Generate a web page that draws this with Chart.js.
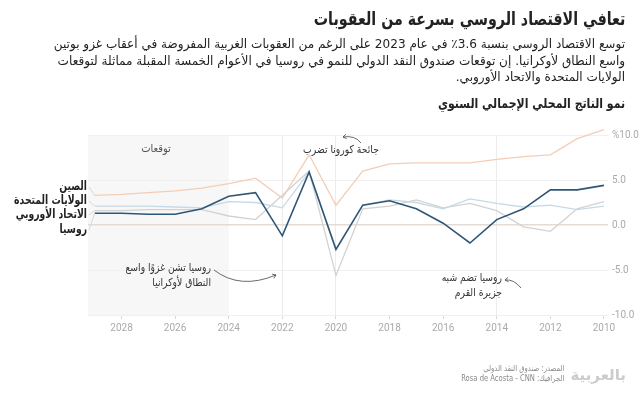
<!DOCTYPE html>
<html lang="ar">
<head>
<meta charset="utf-8">
<script src="https://cdn.jsdelivr.net/npm/chart.js@4.4.1/dist/chart.umd.min.js"></script>
<style>
  html, body { margin: 0; padding: 0; background: #fff; }
  body { width: 640px; height: 396px; position: relative; overflow: hidden; font-family: "DejaVu Sans", sans-serif; }
  #chart { position: absolute; left: 0; top: 0; }
  .txt { position: absolute; right: 15px; direction: rtl; text-align: right; color: #222; white-space: nowrap; transform-origin: right top; }
  #title { top: 8px; font-size: 18px; font-weight: bold; transform: scaleX(0.79); }
  #sub { top: 36px; font-size: 12.5px; line-height: 16.5px; transform: scaleX(0.965); }
  #chartTitle { top: 95px; font-size: 13.5px; font-weight: bold; transform: scaleX(0.81); }
  #source { top: 364px; right: 76px; font-size: 8px; line-height: 9.5px; color: #888; transform: scaleX(0.85); }
  #logo { top: 366px; right: 14px; font-size: 15px; font-weight: bold; color: #ccc; }
</style>
</head>
<body>
<canvas id="chart" width="640" height="396"></canvas>
<div class="txt" id="title">تعافي الاقتصاد الروسي بسرعة من العقوبات</div>
<div class="txt" id="sub">توسع الاقتصاد الروسي بنسبة 3.6٪ في عام 2023 على الرغم من العقوبات الغربية المفروضة في أعقاب غزو بوتين<br>واسع النطاق لأوكرانيا. إن توقعات صندوق النقد الدولي للنمو في روسيا في الأعوام الخمسة المقبلة مماثلة لتوقعات<br>الولايات المتحدة والاتحاد الأوروبي.</div>
<div class="txt" id="chartTitle">نمو الناتج المحلي الإجمالي السنوي</div>
<div class="txt" id="source">المصدر: صندوق النقد الدولي<br>الجرافيك: Rosa de Acosta - CNN</div>
<div class="txt" id="logo">بالعربية</div>
<script>
// النمو السنوي ٪ حسب صندوق النقد الدولي (2025-2029 توقعات)
const years = [2010, 2011, 2012, 2013, 2014, 2015, 2016, 2017, 2018, 2019, 2020, 2021, 2022, 2023, 2024, 2025, 2026, 2027, 2028, 2029];
const russia = [4.4, 3.9, 3.9, 1.8, 0.6, -2.0, 0.2, 1.8, 2.7, 2.2, -2.7, 5.9, -1.2, 3.6, 3.2, 1.8, 1.2, 1.2, 1.3, 1.3];
const china = [10.6, 9.6, 7.8, 7.6, 7.3, 6.9, 6.9, 6.9, 6.8, 6.0, 2.2, 7.8, 3.0, 5.2, 4.6, 4.1, 3.8, 3.6, 3.4, 3.3];
const usa = [2.1, 1.7, 2.2, 2.0, 2.4, 2.9, 1.8, 2.5, 2.8, 2.2, -2.8, 5.9, 1.9, 2.5, 2.6, 1.9, 2.0, 2.1, 2.1, 2.1];
const eu = [2.6, 1.8, -0.7, -0.2, 1.6, 2.4, 1.9, 2.8, 2.1, 1.8, -5.6, 6.0, 3.3, 0.6, 1.0, 1.7, 1.7, 1.7, 1.6, 1.6];

const xTicks = [2010, 2012, 2014, 2016, 2018, 2020, 2022, 2024, 2026, 2028];
const yTicks = [-10, -5, 0, 5, 10];
const eventYears = [2014, 2020, 2022];
const forecastFrom = 2024;

const seriesNames = ['الصين', 'الولايات المتحدة', 'الاتحاد الأوروبي', 'روسيا'];
const seriesData = [china, usa, eu, russia];

const AR = '"DejaVu Sans", sans-serif';

function pts(vals) { return vals.map((v, i) => ({ x: years[i], y: v })); }

function arrow(ctx, x0, y0, cx, cy, x1, y1) {
  ctx.beginPath();
  ctx.moveTo(x0, y0);
  ctx.quadraticCurveTo(cx, cy, x1, y1);
  ctx.stroke();
  const a = Math.atan2(y1 - cy, x1 - cx);
  ctx.beginPath();
  ctx.moveTo(x1 - 4 * Math.cos(a - 0.6), y1 - 4 * Math.sin(a - 0.6));
  ctx.lineTo(x1, y1);
  ctx.lineTo(x1 - 4 * Math.cos(a + 0.6), y1 - 4 * Math.sin(a + 0.6));
  ctx.stroke();
}

// نص مضغوط أفقيا ليشبه الخط الأصلي
function text(ctx, t, x, y, sx) {
  ctx.save();
  ctx.translate(x, y);
  ctx.scale(sx, 1);
  ctx.fillText(t, 0, 0);
  ctx.restore();
}

const extras = {
  id: 'extras',
  beforeDraw(chart) {
    const { ctx, chartArea: a, scales: { x } } = chart;
    ctx.save();
    ctx.fillStyle = '#f7f7f7';
    ctx.fillRect(a.left, a.top, x.getPixelForValue(forecastFrom) - a.left, a.bottom - a.top);
    ctx.restore();
  },
  afterDraw(chart) {
    const { ctx, scales: { x, y } } = chart;
    ctx.save();
    ctx.direction = 'rtl';
    ctx.textBaseline = 'middle';

    // توقعات
    ctx.fillStyle = '#555';
    ctx.font = '11px ' + AR;
    ctx.textAlign = 'center';
    text(ctx, 'توقعات', 156, 149, 0.9);

    // أسماء السلاسل
    const labelY = [187, 201, 215, 230];
    const x0 = x.getPixelForValue(years[years.length - 1]);
    ctx.strokeStyle = '#d0d0d0';
    ctx.lineWidth = 0.8;
    seriesData.forEach((d, i) => {
      ctx.beginPath();
      ctx.moveTo(89, labelY[i]);
      ctx.lineTo(x0, y.getPixelForValue(d[d.length - 1]));
      ctx.stroke();
    });
    ctx.fillStyle = '#222';
    ctx.font = 'bold 12.5px ' + AR;
    ctx.textAlign = 'right';
    seriesNames.forEach((n, i) => text(ctx, n, 87, labelY[i], 0.74));

    // ملاحظات
    ctx.fillStyle = '#333';
    ctx.font = '11px ' + AR;
    ctx.textAlign = 'center';
    text(ctx, 'جائحة كورونا تضرب', 341, 150, 0.84);
    ctx.textAlign = 'right';
    text(ctx, 'روسيا تشن غزوًا واسع', 211, 268, 0.84);
    text(ctx, 'النطاق لأوكرانيا', 211, 283, 0.84);
    text(ctx, 'روسيا تضم شبه', 502, 278, 0.84);
    text(ctx, 'جزيرة القرم', 502, 293, 0.84);

    ctx.strokeStyle = '#444';
    ctx.lineWidth = 0.8;
    arrow(ctx, 361, 143, 355, 135, 343, 137);
    arrow(ctx, 214, 270, 240, 290, 276, 275);
    arrow(ctx, 521, 288, 514, 279, 505, 280);
    ctx.restore();
  }
};

const datasets = [
  { label: 'روسيا', data: pts(russia), borderColor: '#2f5677', borderWidth: 1.6 },
  { label: 'الولايات المتحدة', data: pts(usa), borderColor: '#c6d9e5', borderWidth: 1.3 },
  { label: 'الاتحاد الأوروبي', data: pts(eu), borderColor: '#d2d2d2', borderWidth: 1.3 },
  { label: 'الصين', data: pts(china), borderColor: '#f4cdb6', borderWidth: 1.3 }
].map(d => Object.assign(d, { pointRadius: 0, tension: 0, clip: false, fill: false }));

new Chart(document.getElementById('chart'), {
  type: 'line',
  data: { datasets },
  options: {
    responsive: false,
    animation: false,
    devicePixelRatio: 1,
    layout: { padding: { left: 88, top: 135, right: 0, bottom: 61 } },
    plugins: { legend: { display: false }, tooltip: { enabled: false } },
    scales: {
      x: {
        type: 'linear',
        reverse: true,
        min: 2009.85,
        max: 2029.25,
        afterBuildTicks: s => { s.ticks = xTicks.map(v => ({ value: v })); },
        afterFit: s => { s.height = 20; },
        border: { display: false },
        grid: {
          color: c => eventYears.includes(c.tick && c.tick.value) ? '#ececec' : 'rgba(0,0,0,0)',
          tickColor: '#d8d8d8',
          tickLength: 4,
          drawOnChartArea: true
        },
        ticks: { color: '#aaa', font: { family: 'Roboto', size: 10 }, padding: 3, maxRotation: 0, callback: v => String(v) }
      },
      y: {
        position: 'right',
        min: -10,
        max: 10,
        afterBuildTicks: s => { s.ticks = yTicks.map(v => ({ value: v })); },
        afterFit: s => { s.width = 32; },
        border: { display: false },
        grid: { color: c => c.tick && c.tick.value === 0 ? '#e4dcd4' : '#f0f0f0', drawTicks: false, lineWidth: c => c.tick && c.tick.value === 0 ? 1.5 : 1 },
        ticks: {
          color: '#aaa', font: { family: 'Roboto', size: 10 }, padding: 4,
          callback: v => v === 10 ? '%10.0' : v.toFixed(1)
        }
      }
    }
  },
  plugins: [extras]
});
</script>
</body>
</html>
